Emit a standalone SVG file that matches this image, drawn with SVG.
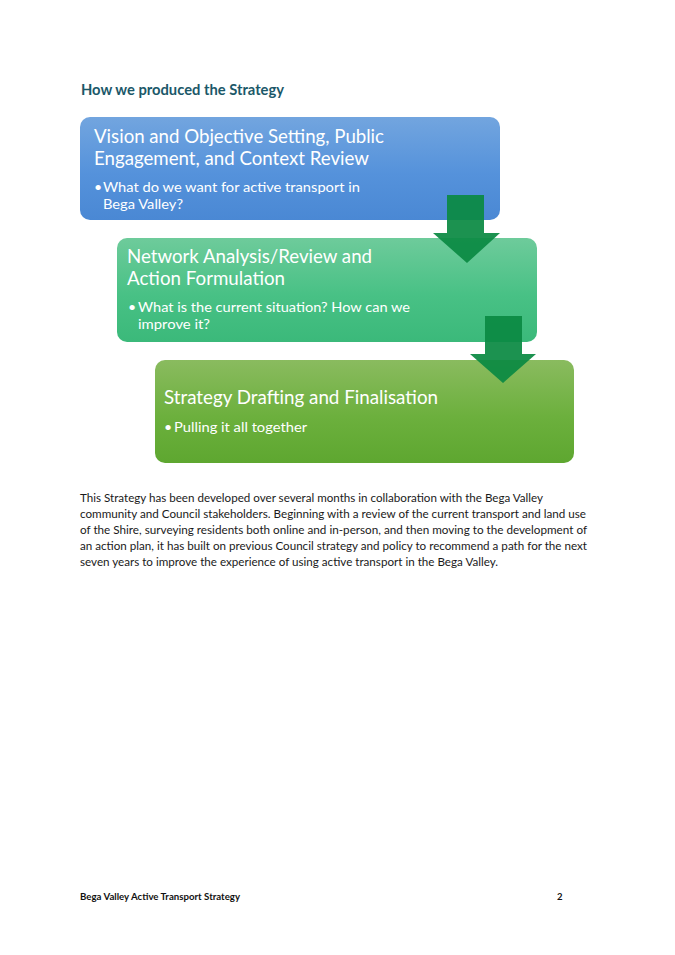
<svg xmlns="http://www.w3.org/2000/svg" width="675" height="955" viewBox="0 0 675 955">
<defs>
<linearGradient id="gBlue" x1="0" y1="0" x2="0" y2="1">
<stop offset="0" stop-color="#72a5df"/><stop offset="0.55" stop-color="#5592db"/><stop offset="1" stop-color="#4a88d4"/>
</linearGradient>
<linearGradient id="gTeal" x1="0" y1="0" x2="0" y2="1">
<stop offset="0" stop-color="#6ecb9b"/><stop offset="0.55" stop-color="#48c185"/><stop offset="1" stop-color="#3bb97a"/>
</linearGradient>
<linearGradient id="gGreen" x1="0" y1="0" x2="0" y2="1">
<stop offset="0" stop-color="#8abb5f"/><stop offset="0.55" stop-color="#6cb03d"/><stop offset="1" stop-color="#5ea730"/>
</linearGradient>
</defs>
<style>
text{font-family:Lato,"Liberation Sans",Arial,sans-serif}
.title{font-size:14.5px;font-weight:bold;fill:#1b5869}
.head{font-size:19.5px;fill:#ffffff}
.bul{font-size:14px;fill:#ffffff}
.body{font-size:12px;fill:#1a1a1a}
.foot{font-size:9.5px;font-weight:bold;fill:#111111}
.arrow{fill:#0b8a43;opacity:0.93}
</style>
<rect width="675" height="955" fill="#ffffff"/>
<text class="title" x="81" y="95" textLength="203" lengthAdjust="spacingAndGlyphs">How we produced the Strategy</text>

<g id="step1">
<rect x="80" y="117" width="420" height="103" rx="10" fill="url(#gBlue)"/>
<text class="head" x="94" y="143" textLength="290" lengthAdjust="spacingAndGlyphs">Vision and Objective Setting, Public</text>
<text class="head" x="94" y="165" textLength="275" lengthAdjust="spacingAndGlyphs">Engagement, and Context Review</text>
<text class="bul" x="94" y="192">•</text>
<text class="bul" x="103" y="192" textLength="257" lengthAdjust="spacingAndGlyphs">What do we want for active transport in</text>
<text class="bul" x="103" y="209" textLength="80" lengthAdjust="spacingAndGlyphs">Bega Valley?</text>
</g>

<g id="step2">
<rect x="117" y="238" width="420" height="104" rx="10" fill="url(#gTeal)"/>
<text class="head" x="127" y="263" textLength="245" lengthAdjust="spacingAndGlyphs">Network Analysis/Review and</text>
<text class="head" x="127" y="285" textLength="158" lengthAdjust="spacingAndGlyphs">Action Formulation</text>
<text class="bul" x="128" y="312">•</text>
<text class="bul" x="138" y="312" textLength="272" lengthAdjust="spacingAndGlyphs">What is the current situation? How can we</text>
<text class="bul" x="138" y="329" textLength="72" lengthAdjust="spacingAndGlyphs">improve it?</text>
</g>

<g id="step3">
<rect x="155" y="360" width="419" height="103" rx="10" fill="url(#gGreen)"/>
<text class="head" x="164" y="404" textLength="274" lengthAdjust="spacingAndGlyphs">Strategy Drafting and Finalisation</text>
<text class="bul" x="164" y="432">•</text>
<text class="bul" x="174" y="432" textLength="133" lengthAdjust="spacingAndGlyphs">Pulling it all together</text>
</g>

<g id="connectors">
<polygon class="arrow" points="447,195 484,195 484,233 500,233 467,263 433,233 447,233"/>
<polygon class="arrow" points="485,316 522,316 522,354 536,354 503,383 470,354 485,354"/>
</g>

<g id="body">
<text class="body" x="80" y="502" textLength="463" lengthAdjust="spacingAndGlyphs">This Strategy has been developed over several months in collaboration with the Bega Valley</text>
<text class="body" x="80" y="518" textLength="506" lengthAdjust="spacingAndGlyphs">community and Council stakeholders. Beginning with a review of the current transport and land use</text>
<text class="body" x="80" y="534" textLength="507" lengthAdjust="spacingAndGlyphs">of the Shire, surveying residents both online and in-person, and then moving to the development of</text>
<text class="body" x="80" y="550" textLength="507" lengthAdjust="spacingAndGlyphs">an action plan, it has built on previous Council strategy and policy to recommend a path for the next</text>
<text class="body" x="80" y="566" textLength="418" lengthAdjust="spacingAndGlyphs">seven years to improve the experience of using active transport in the Bega Valley.</text>
</g>

<g id="footer">
<text class="foot" x="80" y="900" textLength="160" lengthAdjust="spacingAndGlyphs">Bega Valley Active Transport Strategy</text>
<text class="foot" x="557" y="900">2</text>
</g>
</svg>
